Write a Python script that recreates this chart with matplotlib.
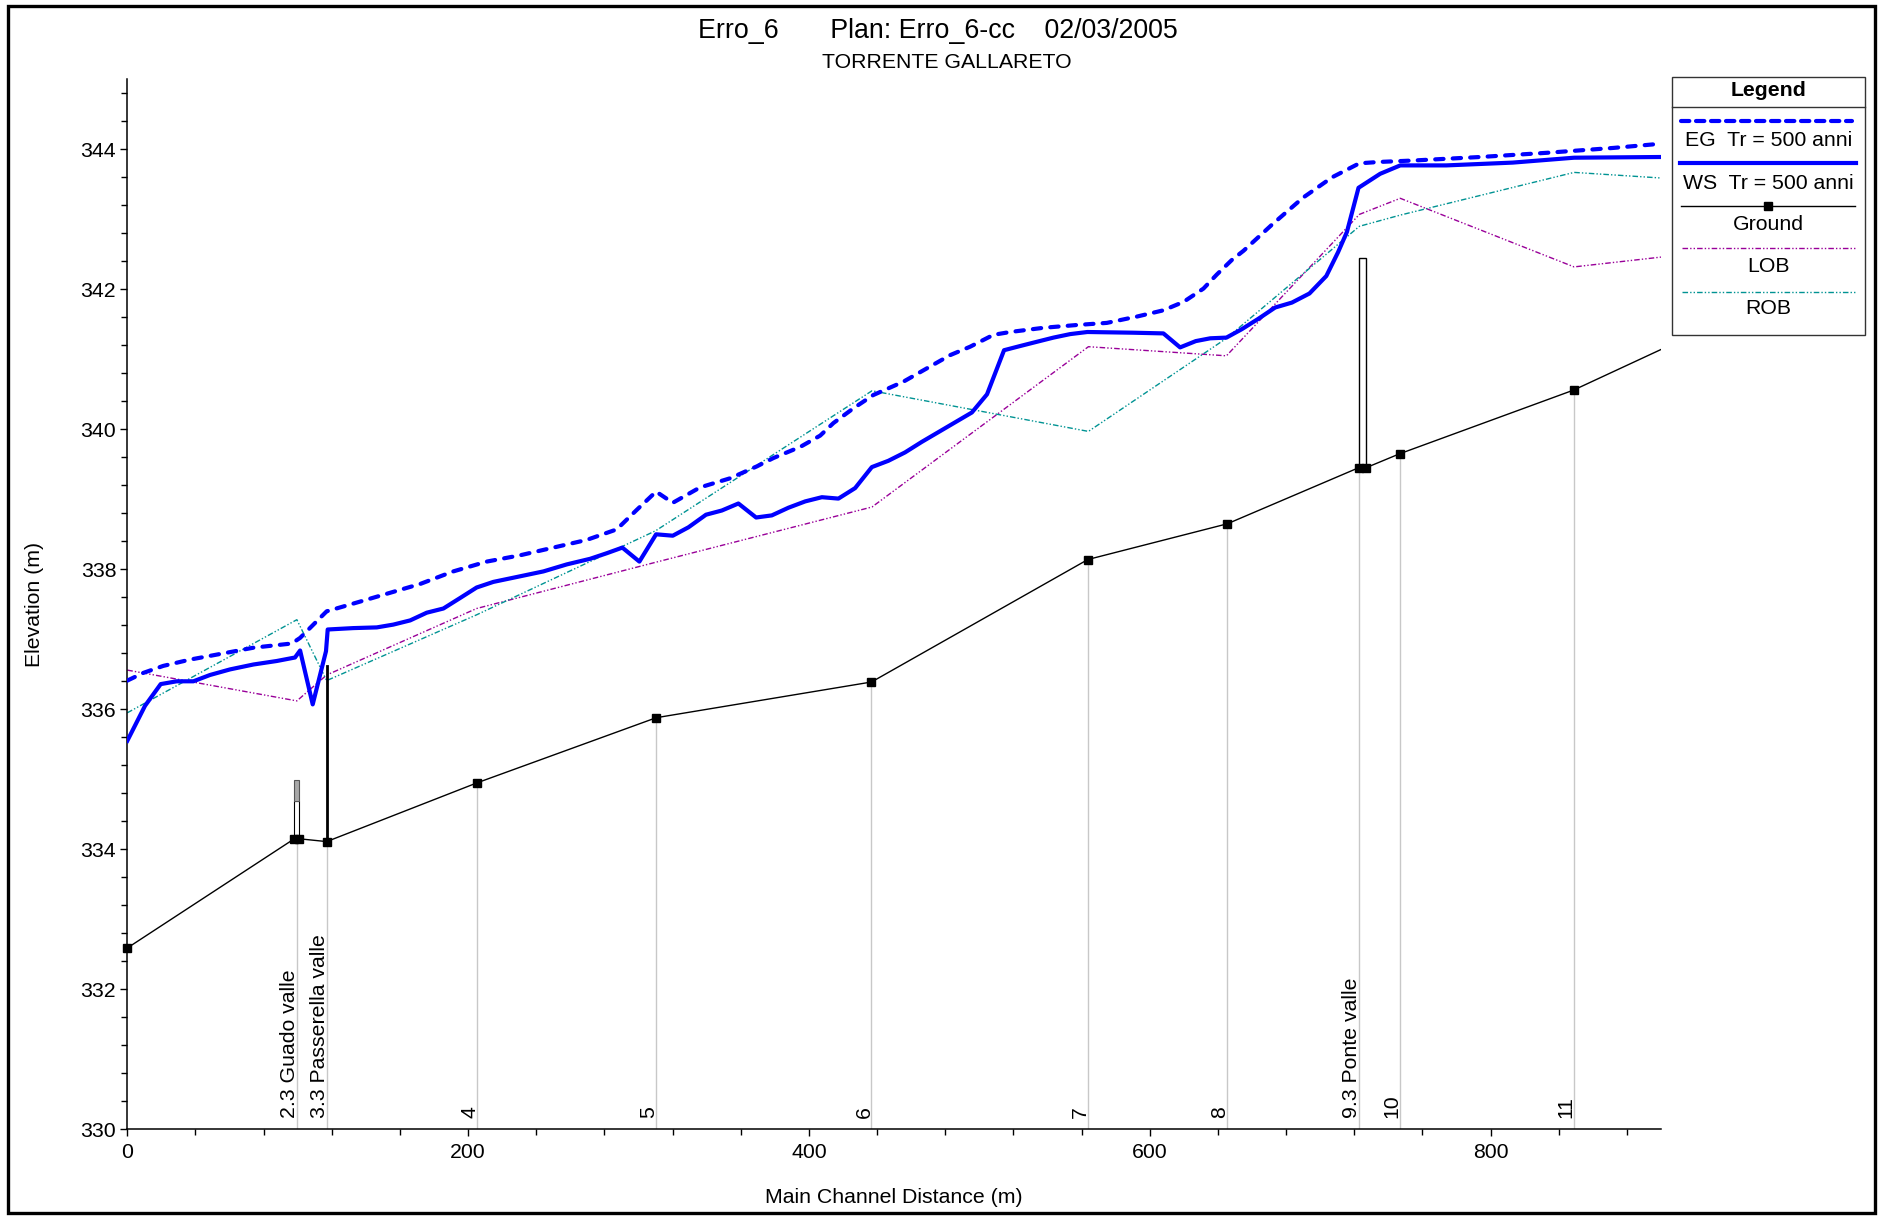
import matplotlib
matplotlib.use("Agg")
import matplotlib.pyplot as plt
from matplotlib.patches import Rectangle
from matplotlib.ticker import MultipleLocator

plt.rcParams['font.family'] = ['Liberation Sans', 'DejaVu Sans']

# ---------------- data ----------------
# Energy grade line (EG) and water surface (WS), Tr = 500 anni
eg_x = [0, 9.4, 21.1, 36.8, 54.4, 74, 96.5, 101.4, 117, 132.6, 152.2, 171.8, 191.3,
        210.9, 230.5, 250, 269.6, 287.2, 299, 310.3, 320.1, 336.1, 353.7, 369.4,
        379.2, 395, 406.6, 414.4, 426.1, 437.8, 455.4, 482.9, 494.6, 508.3, 518.1,
        537.6, 557.2, 574.8, 592.4, 608, 619.8, 631.5, 639.3, 648.2, 655, 672, 690,
        707, 723, 735.2, 754.8, 793.9, 833, 872.2, 900]
eg_y = [336.41, 336.52, 336.62, 336.71, 336.79, 336.88, 336.94, 337.02, 337.40, 337.51,
        337.65, 337.79, 337.97, 338.11, 338.20, 338.31, 338.42, 338.57, 338.85, 339.11,
        338.95, 339.17, 339.30, 339.47, 339.59, 339.75, 339.91, 340.09, 340.30, 340.49,
        340.68, 341.06, 341.18, 341.35, 341.39, 341.45, 341.49, 341.52, 341.61, 341.70,
        341.82, 342.01, 342.21, 342.42, 342.55, 342.93, 343.31, 343.60, 343.80, 343.82,
        343.84, 343.89, 343.95, 344.02, 344.08]

ws_x = [0, 10.4, 19.6, 29, 38.8, 48.5, 60.3, 74, 87.7, 98.4, 101.4, 108.8, 116.6, 117.6,
        132.6, 146.4, 156.1, 166, 175.7, 185.5, 195.3, 205, 214.8, 230.5, 244.2, 257.9,
        271.6, 281.4, 290.5, 300.5, 310.3, 320.1, 329.3, 339.6, 348.9, 358.6, 369, 378.2,
        388, 397.8, 407.6, 417.3, 427.1, 436.9, 446.6, 456.4, 466.2, 476, 485.8, 495.6,
        504.5, 514.5, 524, 533.7, 543.5, 553.3, 563.4, 590, 608, 617.8, 627, 635.5, 645,
        654, 663.8, 673.6, 683.4, 693.7, 703.6, 710.5, 715.7, 722.5, 735.2, 747, 774,
        813, 849, 900]
ws_y = [335.55, 336.05, 336.36, 336.40, 336.40, 336.49, 336.57, 336.64, 336.69, 336.74,
        336.84, 336.07, 336.83, 337.14, 337.16, 337.17, 337.21, 337.27, 337.38, 337.44,
        337.59, 337.74, 337.82, 337.90, 337.97, 338.07, 338.15, 338.23, 338.31, 338.11,
        338.50, 338.48, 338.60, 338.78, 338.84, 338.94, 338.74, 338.77, 338.88, 338.97,
        339.03, 339.01, 339.16, 339.46, 339.55, 339.67, 339.82, 339.96, 340.10, 340.24,
        340.50, 341.13, 341.19, 341.25, 341.31, 341.36, 341.39, 341.38, 341.37, 341.17,
        341.26, 341.30, 341.31, 341.43, 341.58, 341.74, 341.81, 341.94, 342.19, 342.53,
        342.82, 343.45, 343.65, 343.77, 343.77, 343.81, 343.88, 343.89]

# Channel bed (Ground) at each cross section
ground_x = [0, 98.0, 101.0, 117, 205.3, 310.4, 436.7, 563.7, 645.5, 722.5, 726.8, 746.6,
            848.7, 900]
ground_y = [332.59, 334.15, 334.15, 334.11, 334.95, 335.88, 336.39, 338.14, 338.65,
            339.45, 339.45, 339.65, 340.56, 341.14]

# Left / right overbank stations
lob_x = [0, 99.5, 117, 205, 310, 437, 564, 645, 723, 747, 849, 900]
lob_y = [336.56, 336.12, 336.49, 337.44, 338.10, 338.89, 341.18, 341.05, 343.07, 343.30,
         342.32, 342.46]
rob_x = [0, 99.5, 117, 205, 310, 437, 564, 645, 723, 747, 849, 900]
rob_y = [335.95, 337.28, 336.41, 337.35, 338.55, 340.55, 339.97, 341.30, 342.90, 343.06,
         343.67, 343.59]

# Cross-section labels (river stations)
station_x = [99.5, 117, 205.3, 310.4, 436.7, 563.7, 645.5, 722.5, 746.6, 848.7]
station_ground = [334.15, 334.11, 334.95, 335.88, 336.39, 338.14, 338.65, 339.45,
                  339.65, 340.56]
station_labels = ["2.3 Guado valle", "3.3 Passerella valle", "4", "5", "6", "7", "8",
                  "9.3 Ponte valle", "10", "11"]

# Hydraulic structures
guado_x = [98.0, 101.0]
guado_levels = [334.15, 334.69, 334.99]      # bed, deck, top of gray block
passerella_x = 117.0
passerella_levels = [334.11, 336.62]
ponte_x = [722.5, 726.8]
ponte_levels = [339.45, 342.44]

# ---------------- figure ----------------
W, H = 1883, 1216
fig = plt.figure(figsize=(W / 100, H / 100), dpi=100)
ax = fig.add_axes([127.3 / W, (H - 1129.3) / H, (1661 - 127.3) / W, (1129.3 - 79.3) / H])

BLUE = '#0000ff'
LOB_C = '#990099'
ROB_C = '#009393'
FS = 15.3

# station reference lines
for sx, sg in zip(station_x, station_ground):
    ax.plot([sx, sx], [330, sg], color='#c8c8c8', lw=1.0, zorder=1)

for sx, lab in zip(station_x, station_labels):
    ax.annotate(lab, xy=(sx, 330), xytext=(1.5, 8), textcoords='offset points',
                rotation=90, ha='right', va='bottom', fontsize=FS, color='black')

# overbank lines
ax.plot(lob_x, lob_y, color=LOB_C, lw=1.0, ls=(0, (4, 1.5, 1, 1.5, 1, 1.5)), zorder=2)
ax.plot(rob_x, rob_y, color=ROB_C, lw=1.0, ls=(0, (4, 1.5, 1, 1.5, 1, 1.5)), zorder=2)

# ground profile
ax.plot(ground_x, ground_y, color='black', lw=1.0, zorder=3)
ax.plot(ground_x[:-1], ground_y[:-1], ls='none', marker='s', ms=5.6, color='black',
        zorder=6, clip_on=False)

# structures
ax.add_patch(Rectangle((guado_x[0], guado_levels[0]), guado_x[1] - guado_x[0],
                       guado_levels[1] - guado_levels[0], facecolor='white',
                       edgecolor='black', lw=0.8, zorder=4))
ax.add_patch(Rectangle((guado_x[0], guado_levels[1]), guado_x[1] - guado_x[0],
                       guado_levels[2] - guado_levels[1], facecolor='#a8a8a8',
                       edgecolor='#555555', lw=0.8, zorder=4))
ax.plot([passerella_x, passerella_x], passerella_levels, color='black', lw=2.0, zorder=4)
ax.add_patch(Rectangle((ponte_x[0], ponte_levels[0]), ponte_x[1] - ponte_x[0],
                       ponte_levels[1] - ponte_levels[0], facecolor='white',
                       edgecolor='black', lw=1.0, zorder=4))

# water surface and energy grade line
ax.plot(ws_x, ws_y, color=BLUE, lw=3.0, solid_joinstyle='round', zorder=5)
ax.plot(eg_x, eg_y, color=BLUE, lw=3.0, ls=(0, (2.0, 2.2)), dash_capstyle='round',
        zorder=5)

ax.set_xlim(0, 900)
ax.set_ylim(330, 345)
ax.xaxis.set_major_locator(MultipleLocator(200))
ax.xaxis.set_minor_locator(MultipleLocator(40))
ax.yaxis.set_major_locator(MultipleLocator(2))
ax.yaxis.set_minor_locator(MultipleLocator(0.4))
for s in ('top', 'right'):
    ax.spines[s].set_visible(False)
for s in ('left', 'bottom'):
    ax.spines[s].set_linewidth(1.1)
ax.tick_params(which='major', direction='out', length=5, width=1.0, labelsize=FS, pad=3)
ax.tick_params(which='minor', direction='out', length=4, width=1.0)
ax.tick_params(axis='x', which='major', pad=5)
ax.set_xlabel('Main Channel Distance (m)', fontsize=FS)
ax.set_ylabel('Elevation (m)', fontsize=FS)
ax.xaxis.set_label_coords(0.5, -0.056)
ax.yaxis.set_label_coords(-0.054, 0.5)

# ---------------- overlay: frame, titles, legend ----------------
ov = fig.add_axes([0, 0, 1, 1], zorder=10)
ov.set_xlim(0, W)
ov.set_ylim(H, 0)
ov.axis('off')

ov.add_patch(Rectangle((8, 6), 1867, 1207, fill=False, edgecolor='black', lw=2.4))

ov.text(938, 31.5, 'Erro_6       Plan: Erro_6-cc    02/03/2005', fontsize=19.3,
        ha='center', va='center')
ov.text(947, 62, 'TORRENTE GALLARETO', fontsize=FS, ha='center', va='center')

lx0, lx1, ly0, ly1 = 1671.7, 1865, 77.3, 335
ov.add_patch(Rectangle((lx0, ly0), lx1 - lx0, ly1 - ly0, fill=False, edgecolor='#333333',
                       lw=1.0))
ov.plot([lx0, lx1], [106.7, 106.7], color='#333333', lw=1.0)
cx = (lx0 + lx1) / 2
ov.text(cx, 91, 'Legend', fontsize=FS, fontweight='bold', ha='center', va='center')

ov.plot([1681, 1852], [120.7, 120.7], color=BLUE, lw=3.0, ls=(0, (2.0, 1.6)),
        dash_capstyle='round')
ov.text(cx, 140, 'EG  Tr = 500 anni', fontsize=FS, ha='center', va='center')
ov.plot([1680, 1856], [162.7, 162.7], color=BLUE, lw=3.0)
ov.text(cx, 183.3, 'WS  Tr = 500 anni', fontsize=FS, ha='center', va='center')
ov.plot([1681, 1855], [206, 206], color='black', lw=1.0)
ov.plot([1768.3], [206], marker='s', ms=5.6, color='black')
ov.text(cx, 224, 'Ground', fontsize=FS, ha='center', va='center')
ov.plot([1682, 1855], [248.3, 248.3], color=LOB_C, lw=1.0,
        ls=(0, (4, 1.5, 1, 1.5, 1, 1.5)))
ov.text(cx, 266.7, 'LOB', fontsize=FS, ha='center', va='center')
ov.plot([1682, 1855], [291.7, 291.7], color=ROB_C, lw=1.0,
        ls=(0, (4, 1.5, 1, 1.5, 1, 1.5)))
ov.text(cx, 308.3, 'ROB', fontsize=FS, ha='center', va='center')

fig.savefig('out.png', dpi=100)
